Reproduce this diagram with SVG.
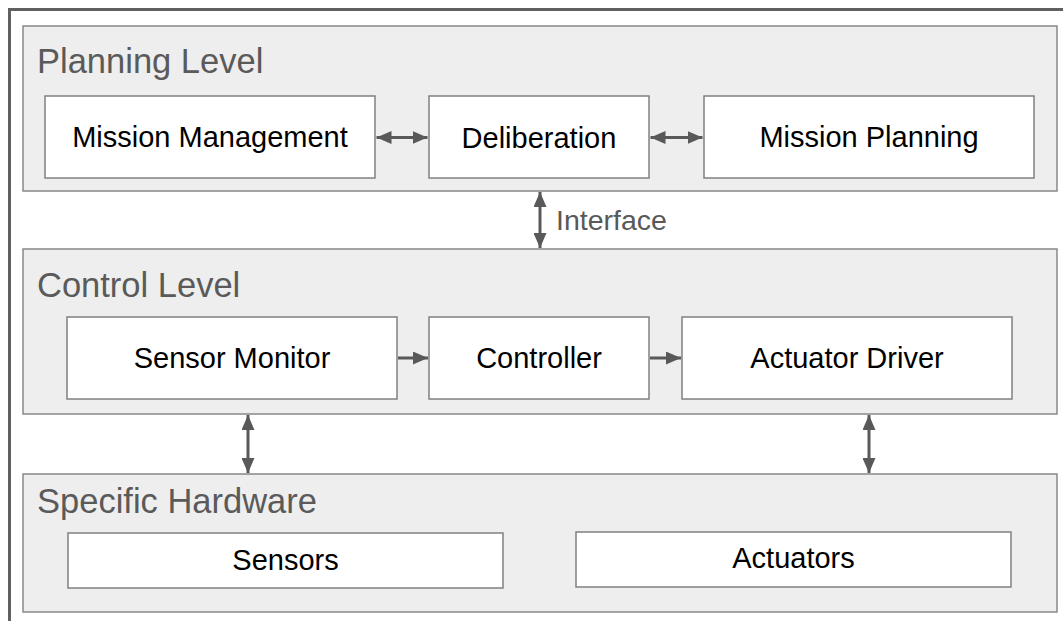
<svg xmlns="http://www.w3.org/2000/svg" width="1063" height="621" viewBox="0 0 1063 621">
<defs>
<style>
.panel{fill:#eeeeee;stroke:#888888;stroke-width:1.5}
.box{fill:#ffffff;stroke:#808080;stroke-width:1.5}
.lvl{font-family:"Liberation Sans",Arial,sans-serif;font-size:34.5px;fill:#5a5a5a}
.lbl{font-family:"Liberation Sans",Arial,sans-serif;font-size:29px;fill:#000000;text-anchor:middle}
.conn{stroke:#595959;stroke-width:3;fill:none}
.ifc{font-family:"Liberation Sans",Arial,sans-serif;font-size:28.5px;fill:#595959}
</style>
<marker id="ah" viewBox="0 0 15 13" refX="15" refY="6.5" markerWidth="15" markerHeight="13" markerUnits="userSpaceOnUse" orient="auto-start-reverse">
<path d="M0,0 L15,6.5 L0,13 z" fill="#595959"/>
</marker>
</defs>
<rect width="1063" height="621" fill="#ffffff"/>
<path d="M9.5,621 V9.5 H1063" fill="none" stroke="#606060" stroke-width="3"/>

<g id="planning">
<rect class="panel" x="23" y="26" width="1034" height="165"/>
<text class="lvl" x="37" y="73">Planning Level</text>
</g>
<g id="mission-management">
<rect class="box" x="45" y="96" width="330" height="82"/>
<text class="lbl" x="210" y="147">Mission Management</text>
</g>
<g id="deliberation">
<rect class="box" x="429" y="96" width="220" height="82"/>
<text class="lbl" x="539" y="148">Deliberation</text>
</g>
<g id="mission-planning">
<rect class="box" x="704" y="96" width="330" height="82"/>
<text class="lbl" x="869" y="147">Mission Planning</text>
</g>

<g id="control">
<rect class="panel" x="23" y="249" width="1034" height="165"/>
<text class="lvl" x="37" y="297">Control Level</text>
</g>
<g id="sensor-monitor">
<rect class="box" x="67" y="317" width="330" height="82"/>
<text class="lbl" x="232" y="368">Sensor Monitor</text>
</g>
<g id="controller">
<rect class="box" x="429" y="317" width="220" height="82"/>
<text class="lbl" x="539" y="368">Controller</text>
</g>
<g id="actuator-driver">
<rect class="box" x="682" y="317" width="330" height="82"/>
<text class="lbl" x="847" y="368">Actuator Driver</text>
</g>

<g id="hardware">
<rect class="panel" x="23" y="474" width="1034" height="138"/>
<text class="lvl" x="37" y="513">Specific Hardware</text>
</g>
<g id="sensors">
<rect class="box" x="68" y="533" width="435" height="55"/>
<text class="lbl" x="285.5" y="570">Sensors</text>
</g>
<g id="actuators">
<rect class="box" x="576" y="532" width="435" height="55"/>
<text class="lbl" x="793.5" y="568">Actuators</text>
</g>

<g id="connectors">
<line class="conn" x1="376.5" y1="137.5" x2="427.5" y2="137.5" marker-start="url(#ah)" marker-end="url(#ah)"/>
<line class="conn" x1="650.5" y1="137.5" x2="702.5" y2="137.5" marker-start="url(#ah)" marker-end="url(#ah)"/>
<line class="conn" x1="540" y1="192" x2="540" y2="248" marker-start="url(#ah)" marker-end="url(#ah)"/>
<text class="ifc" x="556" y="230">Interface</text>
<line class="conn" x1="398" y1="358" x2="428" y2="358" marker-end="url(#ah)"/>
<line class="conn" x1="650" y1="358" x2="681" y2="358" marker-end="url(#ah)"/>
<line class="conn" x1="248" y1="415" x2="248" y2="473" marker-start="url(#ah)" marker-end="url(#ah)"/>
<line class="conn" x1="869" y1="415" x2="869" y2="473" marker-start="url(#ah)" marker-end="url(#ah)"/>
</g>
</svg>
